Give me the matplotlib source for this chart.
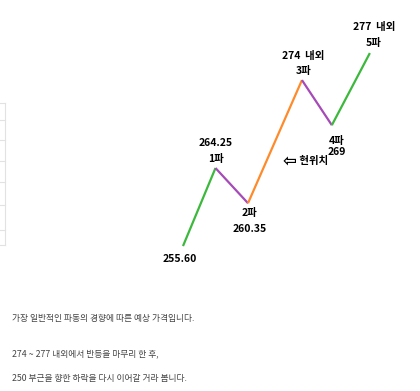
import matplotlib
matplotlib.use("Agg")
import matplotlib.pyplot as plt
from matplotlib.lines import Line2D

plt.rcParams['font.family'] = ['Noto Sans CJK KR', 'DejaVu Sans']

# wave points (time step, price)
steps = [0, 1, 2, 3.66, 4.58, 5.75]
prices = [255.60, 264.25, 260.35, 274, 269, 277]
seg_colors = ['#3cb83c', '#a64ab8', '#ff8a2a', '#a64ab8', '#3cb83c']

labels = ['255.60', '264.25\n1파', '2파\n260.35', '274  내외\n3파', '4파\n269', '277  내외\n5파']
label_pos = ['below', 'above', 'below', 'above', 'below', 'above']

notes = [
    "가장 일반적인 파동의 경향에 따른 예상 가격입니다.",
    "274 ~ 277 내외에서 반등을 마무리 한 후,",
    "250 부근을 향한 하락을 다시 이어갈 거라 봅니다.",
]

fig = plt.figure(figsize=(4.2, 3.91), dpi=100)
ax = fig.add_axes([0, 0, 1, 1])
ax.set_xlim(-183 / 32.5, (420 - 183) / 32.5)
ax.set_ylim(239.53, 282.88)
ax.axis('off')

for i in range(len(steps) - 1):
    ax.plot(steps[i:i + 2], prices[i:i + 2], color=seg_colors[i], lw=1.6,
            solid_capstyle='butt')

offsets = {0: (-0.1, -0.9), 1: (0, 0.5), 2: (0.05, -0.55),
           3: (0.05, 0.4), 4: (0.15, -1.2), 5: (0.12, 0.6)}
for i, (x, y, t) in enumerate(zip(steps, prices, labels)):
    dx, dy = offsets[i]
    va = 'bottom' if label_pos[i] == 'above' else 'top'
    ls = 1.15 if i == 4 else 1.75
    ax.text(x + dx, y + dy, t, ha='center', va=va, fontsize=7.5,
            fontweight='bold', linespacing=ls)

# current position marker
ax.text(3.5, 265.0, '⇦', ha='right', va='center', fontsize=12,
        fontweight='bold', family=['DejaVu Sans'])
ax.text(3.5, 265.0, ' 현위치', ha='left', va='center', fontsize=7.5,
        fontweight='bold')

for y, t in zip([319, 354, 379], notes):
    fig.text(12 / 420, 1 - y / 391, t, ha='left', va='center', fontsize=6.3,
             color='#444444')

# faint table edge on the left
for y in [103, 120, 140, 161, 182, 205, 230, 245]:
    fig.add_artist(Line2D([0, 5 / 420], [1 - y / 391] * 2, color='#e2e2e2', lw=0.8))
fig.add_artist(Line2D([5 / 420] * 2, [1 - 103 / 391, 1 - 245 / 391], color='#e2e2e2', lw=0.8))

fig.savefig('out.png', dpi=100)
